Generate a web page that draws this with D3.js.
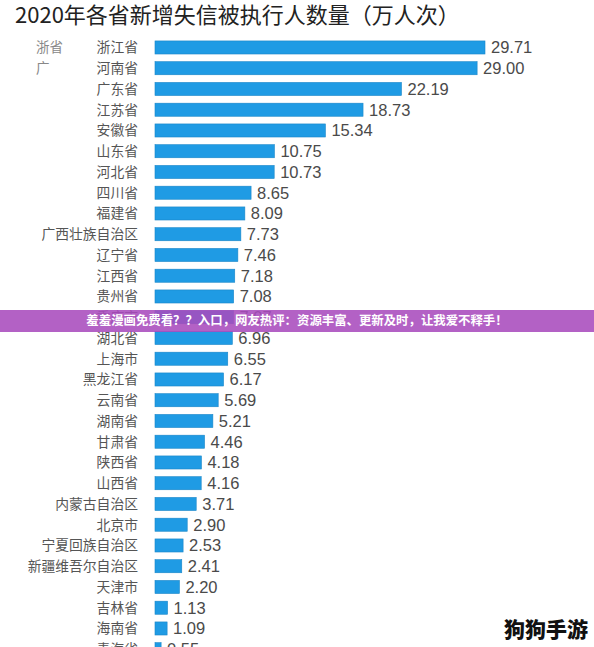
<!DOCTYPE html>
<html>
<head>
<meta charset="utf-8">
<script src="https://cdn.jsdelivr.net/npm/d3@7"></script>
<style>
  html, body { margin: 0; padding: 0; background: #fff; }
  svg { display: block; }
</style>
</head>
<body>
<svg id="chart" width="594" height="647"></svg>
<script>
const titleText = "2020年各省新增失信被执行人数量（万人次）";
const provinces = ["浙江省","河南省","广东省","江苏省","安徽省","山东省","河北省","四川省","福建省","广西壮族自治区","辽宁省","江西省","贵州省","重庆市","湖北省","上海市","黑龙江省","云南省","湖南省","甘肃省","陕西省","山西省","内蒙古自治区","北京市","宁夏回族自治区","新疆维吾尔自治区","天津市","吉林省","海南省","青海省"];
const values = [29.71,29.00,22.19,18.73,15.34,10.75,10.73,8.65,8.09,7.73,7.46,7.18,7.08,7.07,6.96,6.55,6.17,5.69,5.21,4.46,4.18,4.16,3.71,2.90,2.53,2.41,2.20,1.13,1.09,0.55];
const ghostLabels = ["浙省","广"];
const bannerText = "羞羞漫画免费看？？入口，网友热评：资源丰富、更新及时，让我爱不释手！";
const watermarkText = "狗狗手游";

const svg = d3.select("#chart");
const font = "'Noto Sans CJK SC', 'Noto Sans', sans-serif";

const y = d3.scaleBand().domain(provinces).range([37.1, 37.1 + 20.75 * provinces.length]).paddingInner(0.37).paddingOuter(0.185);
const x = d3.scaleLinear().domain([0, 29.71]).range([155, 485]);

// title
svg.append("text").attr("x", 15).attr("y", 22.5).attr("font-family", font).attr("font-size", 22)
  .attr("fill", "#222").text(titleText);

// ghost labels at far left
svg.selectAll("text.ghost").data(ghostLabels).join("text").attr("class", "ghost")
  .attr("x", 36).attr("y", (d, i) => y(provinces[i]) + y.bandwidth() / 2)
  .attr("dy", "0.35em").attr("font-family", font).attr("font-size", 13.5).attr("fill", "#888").text(d => d);

const data = provinces.map((p, i) => ({ p, v: values[i] }));

// category labels
svg.selectAll("text.cat").data(data).join("text").attr("class", "cat")
  .attr("x", 138).attr("y", d => y(d.p) + y.bandwidth() / 2).attr("dy", "0.36em")
  .attr("text-anchor", "end").attr("font-family", font).attr("font-size", 13.8).attr("fill", "#555")
  .text(d => d.p);

// bars
svg.selectAll("rect.bar").data(data).join("rect").attr("class", "bar")
  .attr("x", x(0)).attr("y", d => y(d.p)).attr("width", d => x(d.v) - x(0)).attr("height", y.bandwidth())
  .attr("fill", "#1f9be4").attr("stroke", "#1a86c8").attr("stroke-width", 0.6);

// value labels
svg.selectAll("text.val").data(data).join("text").attr("class", "val")
  .attr("x", d => x(d.v) + 6).attr("y", d => y(d.p) + y.bandwidth() / 2).attr("dy", "0.36em")
  .attr("font-family", "'Liberation Sans', 'Noto Sans', sans-serif").attr("font-size", 16.5).attr("fill", "#4a4a4a")
  .text(d => d.v.toFixed(2));

// banner overlay
svg.append("rect").attr("x", 0).attr("y", 310).attr("width", 594).attr("height", 22)
  .attr("fill", "#a94bbd").attr("opacity", 0.88);
svg.append("text").attr("x", 297).attr("y", 321).attr("dy", "0.36em").attr("text-anchor", "middle")
  .attr("font-family", font).attr("font-weight", 700).attr("font-size", 12.4).attr("fill", "#fff")
  .text(bannerText);

// watermark
svg.append("text").attr("x", 588).attr("y", 637).attr("text-anchor", "end")
  .attr("font-family", font).attr("font-weight", 900).attr("font-size", 21).attr("fill", "#111")
  .text(watermarkText);
</script>
</body>
</html>
